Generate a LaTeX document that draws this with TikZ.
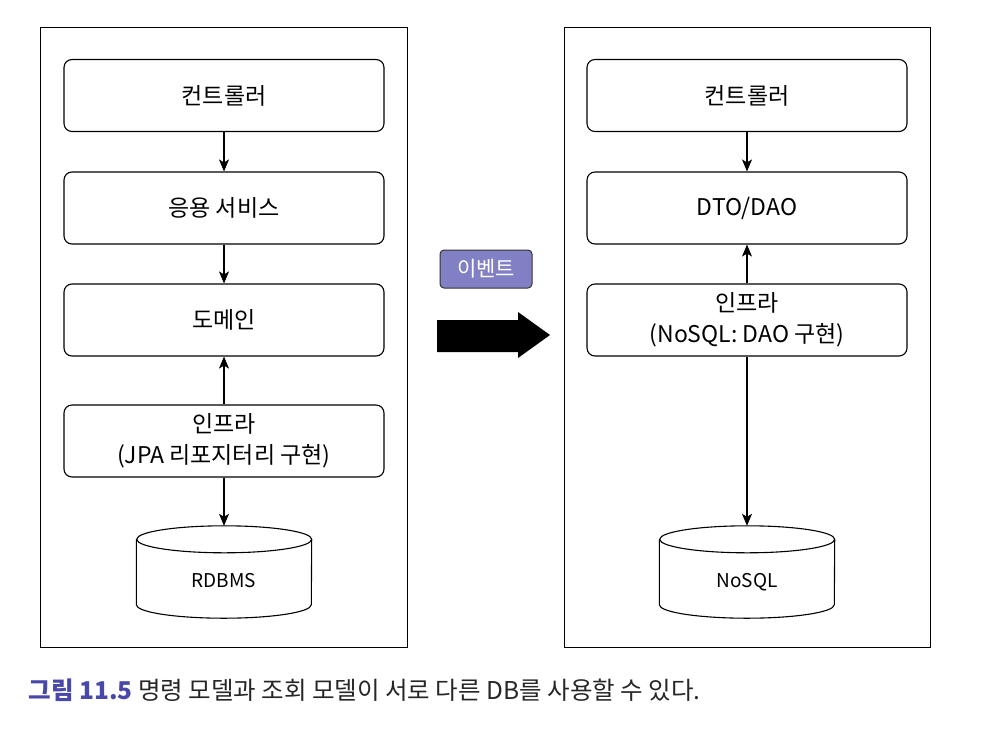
\documentclass[tikz,border=0pt]{standalone}
\usepackage{fontspec}
\setmainfont{Noto Sans CJK KR}
\usetikzlibrary{arrows.meta}
\definecolor{eventfill}{RGB}{130,128,196}
\definecolor{figblue}{RGB}{72,72,168}
\begin{document}
\begin{tikzpicture}[x=1pt,y=1pt]
\tikzstyle{layer} = [draw,rounded corners=8pt,line width=1.1pt,minimum width=320pt,minimum height=72pt,align=center,font=\fontsize{23}{31}\selectfont];
\tikzstyle{store} = [minimum width=175pt,minimum height=92pt,inner sep=0pt,font=\fontsize{19}{20}\selectfont];
\tikzstyle{event} = [draw=black!80,fill=eventfill,rounded corners=4pt,line width=1pt,minimum width=92pt,minimum height=38pt,text=white,font=\fontsize{21}{22}\selectfont];
\tikzstyle{flow} = [-{Stealth[length=12pt,width=10pt,inset=3pt]},line width=1.1pt];
\useasboundingbox (0,0) rectangle (992,-734);
\draw [line width=1pt] (40,-27) rectangle (407,-647);
\draw [line width=1pt] (564,-27) rectangle (930,-647);
\node [layer] (ctrlA) at (224,-95.5) {컨트롤러};
\node [layer] (svcA) at (224,-208) {응용 서비스};
\node [layer] (domA) at (224,-320) {도메인};
\node [layer] (infraA) at (224,-441) {인프라\\(JPA 리포지터리 구현)};
\node [store] (rdb) at (224,-572) {\raisebox{-15pt}[0pt][0pt]{RDBMS}};
\node [layer] (ctrlB) at (747,-95.5) {컨트롤러};
\node [layer] (dto) at (747,-208) {DTO/DAO};
\node [layer] (infraB) at (747,-320) {인프라\\(NoSQL: DAO 구현)};
\node [store] (nosql) at (747,-572) {\raisebox{-15pt}[0pt][0pt]{NoSQL}};
\node [event] (evt) at (486,-269) {이벤트};
\fill (437,-320) -- (518,-320) -- (518,-312) -- (550,-335) -- (518,-358) -- (518,-352) -- (437,-352) -- cycle;
\foreach \db in {rdb,nosql}
  \draw [line width=1.1pt] ([yshift=-13.5pt]\db.north west) -- ([yshift=13.5pt]\db.south west)
    arc[start angle=180,end angle=360,x radius=87.5pt,y radius=13.5pt]
    -- ([yshift=-13.5pt]\db.north east)
    arc[start angle=0,end angle=180,x radius=87.5pt,y radius=13.5pt]
    arc[start angle=180,end angle=360,x radius=87.5pt,y radius=13.5pt];
\draw [flow] (ctrlA) -- (svcA);
\draw [flow] (svcA) -- (domA);
\draw [flow] (infraA) -- (domA);
\draw [flow] (infraA) -- (rdb);
\draw [flow] (ctrlB) -- (dto);
\draw [flow] (infraB) -- (dto);
\draw [flow] (infraB) -- (nosql);
\node [anchor=west,font=\fontsize{24.5}{28}\selectfont,text=black!85] (caption) at (25,-690) {\textcolor{figblue}{\bfseries 그림 11.5} 명령 모델과 조회 모델이 서로 다른 DB를 사용할 수 있다.};
\end{tikzpicture}
\end{document}
